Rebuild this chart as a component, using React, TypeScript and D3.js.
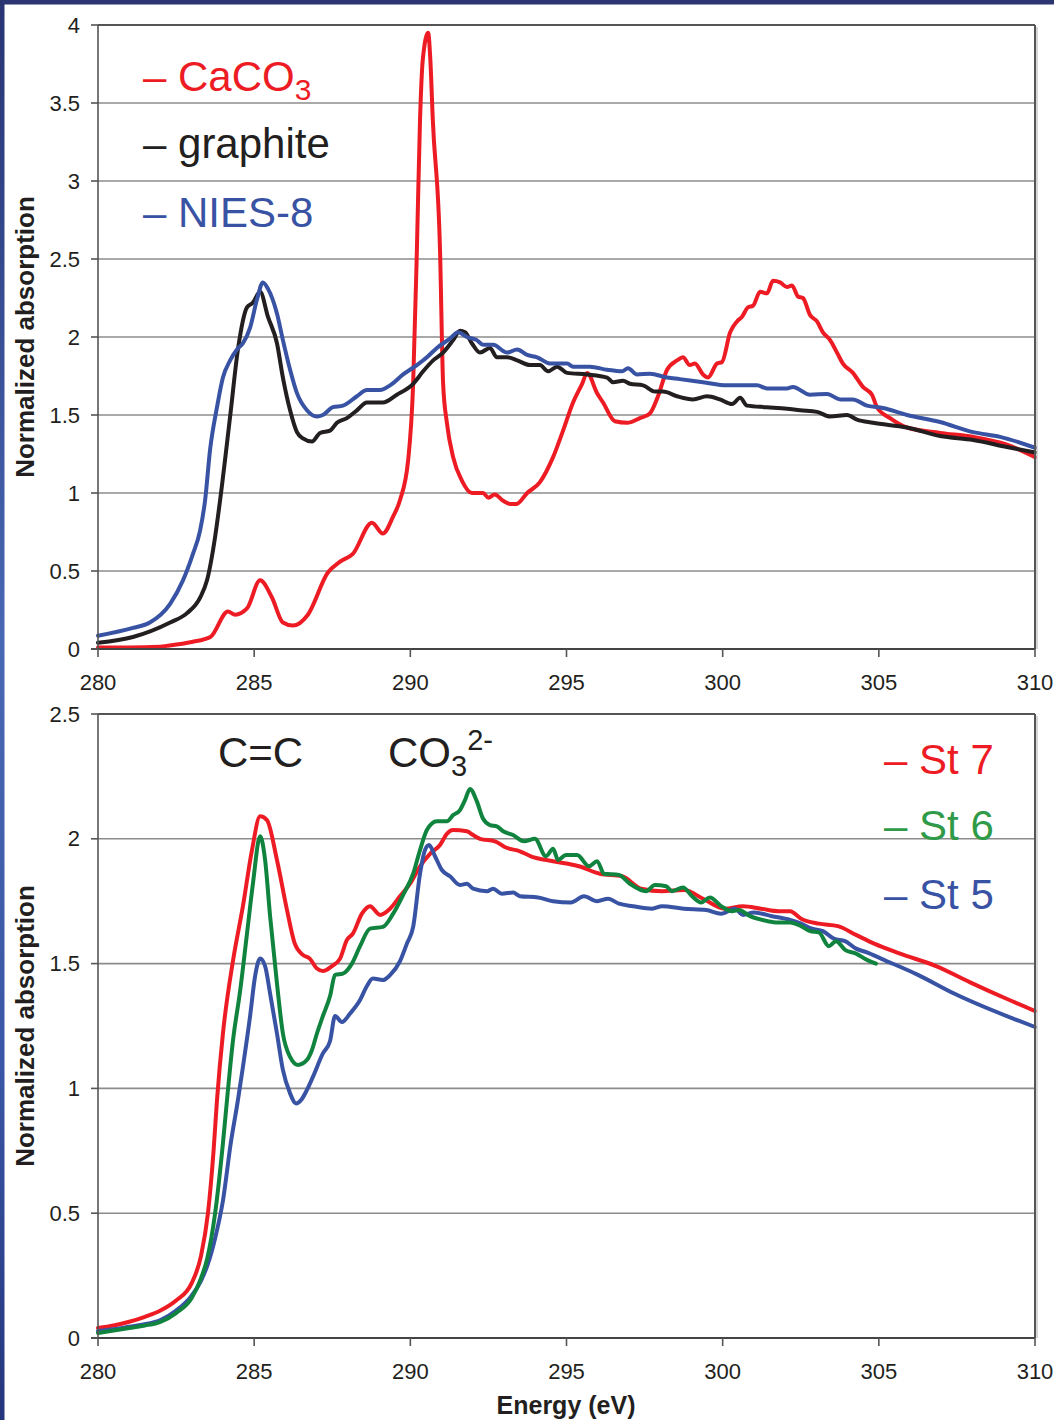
import React from "react";
import * as d3 from "d3";

// Energy axis (eV) and absorption tick values
const energyTicks = [280, 285, 290, 295, 300, 305, 310];
const topAbsTicks = [0, 0.5, 1, 1.5, 2, 2.5, 3, 3.5, 4];
const bottomAbsTicks = [0, 0.5, 1, 1.5, 2, 2.5];

// Reference spectra: [energy eV, normalized absorption]
const caco3: [number, number][] = [
  [280.0, 0.01], [281.0, 0.01], [282.0, 0.015], [282.2, 0.02], [283.0, 0.045], [283.6, 0.077],
  [284.16, 0.24], [284.39, 0.22], [284.77, 0.26], [285.19, 0.44], [285.57, 0.33], [285.92, 0.17],
  [286.24, 0.15], [286.72, 0.22], [287.36, 0.49], [287.75, 0.56], [288.16, 0.61], [288.77, 0.81],
  [289.12, 0.74], [289.45, 0.85], [289.67, 0.955], [289.93, 1.21], [290.09, 1.7], [290.21, 2.56],
  [290.31, 3.39], [290.4, 3.78], [290.57, 3.95], [290.64, 3.78], [290.72, 3.39], [290.95, 2.56],
  [291.05, 1.7], [291.17, 1.45], [291.37, 1.23], [291.65, 1.08], [291.97, 1.0], [292.33, 1.0],
  [292.5, 0.97], [292.7, 0.99], [292.97, 0.95], [293.2, 0.93], [293.4, 0.93], [293.74, 1.0],
  [294.15, 1.07], [294.57, 1.23], [294.89, 1.4], [295.21, 1.58], [295.5, 1.7], [295.66, 1.77],
  [295.98, 1.64], [296.17, 1.58], [296.55, 1.46], [296.94, 1.45], [297.35, 1.48], [297.67, 1.51],
  [297.93, 1.62], [298.22, 1.79], [298.54, 1.85], [298.73, 1.87], [298.95, 1.82], [299.11, 1.83],
  [299.37, 1.76], [299.53, 1.74], [299.82, 1.83], [299.98, 1.84], [300.24, 2.03], [300.46, 2.1],
  [300.62, 2.13], [300.81, 2.19], [300.97, 2.2], [301.2, 2.29], [301.42, 2.28], [301.61, 2.36],
  [301.84, 2.35], [302.06, 2.32], [302.22, 2.33], [302.41, 2.26], [302.57, 2.25], [302.8, 2.14],
  [303.02, 2.1], [303.21, 2.03], [303.44, 1.98], [303.66, 1.9], [303.85, 1.83], [304.17, 1.77],
  [304.49, 1.68], [304.78, 1.63], [304.94, 1.55], [305.36, 1.48], [305.9, 1.42], [306.96, 1.385],
  [308.02, 1.36], [309.1, 1.31], [310.0, 1.23],
];

const graphite: [number, number][] = [
  [280.0, 0.04], [281.12, 0.077], [282.31, 0.17], [282.85, 0.23], [283.27, 0.33], [283.49, 0.44],
  [283.75, 0.72], [283.91, 0.955], [284.23, 1.49], [284.48, 1.92], [284.77, 2.19], [284.96, 2.22],
  [285.19, 2.29], [285.44, 2.13], [285.73, 1.96], [285.92, 1.74], [286.15, 1.53], [286.37, 1.39],
  [286.56, 1.35], [286.85, 1.33], [287.11, 1.385], [287.43, 1.4], [287.65, 1.45], [287.97, 1.48],
  [288.29, 1.53], [288.61, 1.58], [289.12, 1.58], [289.57, 1.63], [290.09, 1.7], [290.41, 1.78],
  [290.73, 1.85], [291.05, 1.9], [291.37, 1.98], [291.59, 2.04], [291.75, 2.03], [291.97, 1.96],
  [292.23, 1.9], [292.55, 1.93], [292.77, 1.87], [293.1, 1.87], [293.42, 1.85], [293.83, 1.82],
  [294.15, 1.82], [294.41, 1.78], [294.7, 1.81], [295.02, 1.77], [295.66, 1.76], [296.3, 1.74],
  [296.49, 1.71], [296.81, 1.72], [297.03, 1.7], [297.45, 1.69], [297.83, 1.65], [298.09, 1.65],
  [298.54, 1.62], [299.05, 1.6], [299.5, 1.62], [299.91, 1.6], [300.3, 1.57], [300.56, 1.61],
  [300.78, 1.56], [301.42, 1.55], [302.06, 1.54], [302.48, 1.53], [303.02, 1.52], [303.44, 1.49],
  [303.98, 1.5], [304.3, 1.47], [304.81, 1.45], [305.9, 1.42], [306.96, 1.365], [308.02, 1.34],
  [309.1, 1.295], [310.0, 1.26],
];

const nies8: [number, number][] = [
  [280.0, 0.085], [281.12, 0.135], [281.66, 0.17], [282.31, 0.29], [282.72, 0.44], [283.04, 0.61],
  [283.27, 0.76], [283.43, 0.955], [283.59, 1.28], [283.81, 1.55], [284.0, 1.74], [284.23, 1.85],
  [284.45, 1.92], [284.64, 1.96], [284.87, 2.06], [285.09, 2.24], [285.28, 2.35], [285.44, 2.31],
  [285.73, 2.15], [285.92, 1.98], [286.15, 1.79], [286.37, 1.64], [286.69, 1.53], [287.01, 1.49],
  [287.2, 1.5], [287.52, 1.55], [287.84, 1.56], [288.29, 1.62], [288.61, 1.66], [289.03, 1.66],
  [289.35, 1.69], [289.77, 1.76], [290.21, 1.82], [290.53, 1.87], [290.85, 1.93], [291.27, 1.99],
  [291.53, 2.03], [291.81, 2.0], [292.13, 1.98], [292.33, 1.95], [292.65, 1.95], [293.1, 1.9],
  [293.42, 1.92], [293.74, 1.885], [294.06, 1.87], [294.47, 1.83], [295.02, 1.83], [295.21, 1.81],
  [295.75, 1.81], [296.3, 1.79], [296.78, 1.78], [296.97, 1.8], [297.26, 1.76], [297.67, 1.765],
  [298.22, 1.74], [298.63, 1.73], [299.37, 1.71], [300.14, 1.69], [301.1, 1.69], [301.42, 1.67],
  [302.06, 1.67], [302.25, 1.68], [302.8, 1.63], [303.34, 1.635], [303.76, 1.6], [304.17, 1.6],
  [304.62, 1.56], [305.13, 1.545], [305.9, 1.5], [306.96, 1.455], [308.02, 1.39], [308.88, 1.36],
  [310.0, 1.29],
];

// Sample spectra, stations 7, 6 and 5
const st7: [number, number][] = [
  [280.0, 0.04], [280.5, 0.05], [281.0, 0.065], [281.5, 0.085], [282.0, 0.11], [282.5, 0.15],
  [283.0, 0.22], [283.3, 0.33], [283.52, 0.5], [283.7, 0.75], [283.81, 0.953], [284.0, 1.22],
  [284.32, 1.51], [284.64, 1.73], [284.93, 1.955], [285.19, 2.09], [285.41, 2.075], [285.73, 1.915],
  [286.05, 1.715], [286.3, 1.58], [286.56, 1.535], [286.78, 1.52], [287.01, 1.48], [287.2, 1.47],
  [287.49, 1.49], [287.75, 1.52], [287.97, 1.595], [288.16, 1.62], [288.45, 1.7], [288.71, 1.73],
  [289.03, 1.695], [289.35, 1.72], [289.67, 1.77], [289.99, 1.82], [290.31, 1.89], [290.63, 1.94],
  [290.95, 1.975], [291.17, 2.02], [291.37, 2.035], [291.81, 2.03], [292.01, 2.015], [292.23, 2.0],
  [292.71, 1.99], [293.06, 1.965], [293.51, 1.95], [293.86, 1.93], [294.57, 1.91], [295.4, 1.89],
  [296.07, 1.86], [296.78, 1.85], [297.39, 1.8], [298.06, 1.79], [298.76, 1.795], [299.37, 1.76],
  [300.07, 1.72], [300.65, 1.73], [301.23, 1.72], [301.8, 1.71], [302.16, 1.71], [302.51, 1.68],
  [303.08, 1.66], [303.69, 1.65], [304.27, 1.615], [304.85, 1.58], [305.68, 1.54], [306.83, 1.49],
  [308.01, 1.42], [309.07, 1.36], [310.0, 1.31],
];

const st6: [number, number][] = [
  [280.0, 0.02], [280.5, 0.03], [281.0, 0.04], [281.5, 0.05], [282.0, 0.065], [282.5, 0.1],
  [283.0, 0.16], [283.3, 0.24], [283.5, 0.32], [283.75, 0.5], [284.0, 0.78], [284.13, 0.953],
  [284.32, 1.19], [284.55, 1.39], [284.77, 1.62], [284.96, 1.82], [285.19, 2.01], [285.35, 1.915],
  [285.51, 1.69], [285.73, 1.42], [285.92, 1.22], [286.15, 1.126], [286.4, 1.094], [286.69, 1.114],
  [286.85, 1.154], [287.01, 1.22], [287.2, 1.29], [287.43, 1.37], [287.59, 1.455], [287.84, 1.46],
  [288.13, 1.5], [288.39, 1.57], [288.71, 1.64], [289.12, 1.647], [289.45, 1.7], [289.77, 1.775],
  [290.09, 1.86], [290.31, 1.955], [290.53, 2.035], [290.85, 2.07], [291.17, 2.07], [291.37, 2.095],
  [291.59, 2.115], [291.75, 2.155], [291.91, 2.2], [292.13, 2.15], [292.33, 2.08], [292.55, 2.055],
  [292.77, 2.05], [292.97, 2.03], [293.29, 2.015], [293.64, 1.99], [293.99, 2.0], [294.34, 1.93],
  [294.57, 1.96], [294.73, 1.915], [294.98, 1.935], [295.34, 1.935], [295.72, 1.89], [295.98, 1.91],
  [296.2, 1.86], [296.68, 1.855], [297.03, 1.82], [297.55, 1.79], [297.83, 1.815], [298.19, 1.81],
  [298.38, 1.79], [298.73, 1.805], [299.02, 1.77], [299.31, 1.745], [299.59, 1.765], [299.95, 1.73],
  [300.3, 1.71], [300.52, 1.715], [300.88, 1.69], [301.45, 1.67], [301.71, 1.665], [302.16, 1.665],
  [302.51, 1.65], [302.8, 1.63], [303.08, 1.625], [303.4, 1.57], [303.63, 1.59], [303.92, 1.555],
  [304.27, 1.54], [304.62, 1.515], [304.91, 1.5],
];

const st5: [number, number][] = [
  [280.0, 0.028], [280.5, 0.035], [281.0, 0.045], [281.5, 0.055], [282.0, 0.072], [282.5, 0.11],
  [283.0, 0.17], [283.3, 0.23], [283.5, 0.29], [283.75, 0.4], [284.0, 0.55], [284.25, 0.78],
  [284.48, 0.953], [284.64, 1.086], [284.87, 1.29], [285.03, 1.45], [285.19, 1.52], [285.35, 1.49],
  [285.51, 1.38], [285.73, 1.22], [285.92, 1.074], [286.15, 0.98], [286.34, 0.94], [286.5, 0.953],
  [286.69, 0.994], [286.88, 1.046], [287.2, 1.14], [287.43, 1.19], [287.59, 1.29], [287.81, 1.266],
  [288.07, 1.3], [288.39, 1.354], [288.61, 1.41], [288.8, 1.44], [289.12, 1.434], [289.35, 1.454],
  [289.67, 1.51], [289.89, 1.58], [290.09, 1.647], [290.31, 1.86], [290.47, 1.955], [290.6, 1.975],
  [290.79, 1.93], [291.01, 1.875], [291.27, 1.85], [291.59, 1.815], [291.81, 1.82], [292.01, 1.8],
  [292.45, 1.79], [292.65, 1.8], [292.93, 1.78], [293.29, 1.785], [293.51, 1.77], [294.09, 1.765],
  [294.57, 1.75], [295.14, 1.745], [295.56, 1.77], [295.98, 1.75], [296.33, 1.76], [296.68, 1.74],
  [297.13, 1.73], [297.74, 1.72], [298.06, 1.73], [298.76, 1.72], [299.47, 1.715], [299.95, 1.7],
  [300.39, 1.72], [300.65, 1.695], [301.0, 1.705], [301.58, 1.69], [302.16, 1.675], [302.51, 1.66],
  [302.86, 1.64], [303.21, 1.63], [303.56, 1.6], [303.92, 1.59], [304.27, 1.56], [304.62, 1.545],
  [305.07, 1.52], [306.25, 1.455], [307.41, 1.38], [310.0, 1.246],
];

const RED = "#ed1c24";
const BLACK = "#231f20";
const BLUE = "#3953a4";
const GREEN = "#10843f";
const GREEN_TEXT = "#2f9a48";
const FONT = "'Liberation Sans', Arial, Helvetica, sans-serif";

const W = 1054;
const H = 1420;
const PLOT_LEFT = 98;
const PLOT_RIGHT = 1035;

const x = d3.scaleLinear().domain([280, 310]).range([PLOT_LEFT, PLOT_RIGHT]);

type Series = { data: [number, number][]; color: string };

function Panel({
  top,
  bottom,
  yMax,
  ticks,
  series,
}: {
  top: number;
  bottom: number;
  yMax: number;
  ticks: number[];
  series: Series[];
}) {
  const y = d3.scaleLinear().domain([0, yMax]).range([bottom, top]);
  const line = d3
    .line<[number, number]>()
    .x((d) => x(d[0]))
    .y((d) => y(d[1]))
    .curve(d3.curveMonotoneX);
  const fmt = d3.format("~g");
  return (
    <g>
      <rect x={PLOT_LEFT} y={top} width={PLOT_RIGHT - PLOT_LEFT} height={bottom - top} fill="#fff" />
      {ticks
        .filter((t) => t > 0 && t < yMax)
        .map((t) => (
          <line key={"g" + t} x1={PLOT_LEFT} x2={PLOT_RIGHT} y1={y(t)} y2={y(t)} stroke="#8c8c8c" strokeWidth={1.6} />
        ))}
      {series.map((s, i) => (
        <path
          key={i}
          d={line(s.data) || ""}
          fill="none"
          stroke={s.color}
          strokeWidth={4}
          strokeLinejoin="round"
          strokeLinecap="round"
        />
      ))}
      {/* frame */}
      <line x1={PLOT_LEFT} x2={PLOT_RIGHT} y1={top} y2={top} stroke="#555" strokeWidth={2} />
      <line x1={PLOT_RIGHT} x2={PLOT_RIGHT} y1={top} y2={bottom} stroke="#555" strokeWidth={2} />
      <line x1={PLOT_RIGHT + 2} x2={PLOT_RIGHT + 2} y1={top + 2} y2={bottom} stroke="#bbb" strokeWidth={1.2} />
      <line x1={PLOT_LEFT} x2={PLOT_LEFT} y1={top} y2={bottom} stroke="#555" strokeWidth={1.6} />
      <line x1={PLOT_LEFT - 7} x2={PLOT_RIGHT} y1={bottom} y2={bottom} stroke="#444" strokeWidth={1.8} />
      {ticks.map((t) => (
        <g key={"y" + t}>
          <line x1={PLOT_LEFT - 7} x2={PLOT_LEFT} y1={y(t)} y2={y(t)} stroke="#555" strokeWidth={1.6} />
          <text x={80} y={y(t) + 7.5} textAnchor="end" fontSize={22} fill={BLACK} fontFamily={FONT}>
            {fmt(t)}
          </text>
        </g>
      ))}
      {energyTicks.map((t) => (
        <g key={"x" + t}>
          <line x1={x(t)} x2={x(t)} y1={bottom} y2={bottom + 8} stroke="#555" strokeWidth={1.6} />
          <text x={x(t)} y={bottom + 41} textAnchor="middle" fontSize={22} fill={BLACK} fontFamily={FONT}>
            {t}
          </text>
        </g>
      ))}
      <text
        transform={`translate(34, ${(top + bottom) / 2}) rotate(-90)`}
        textAnchor="middle"
        fontSize={26}
        fontWeight="bold"
        fill={BLACK}
        fontFamily={FONT}
      >
        Normalized absorption
      </text>
    </g>
  );
}

export default function App() {
  return (
    <div style={{ position: "absolute", left: 0, top: 0 }}>
      <svg width={W} height={H} viewBox={`0 0 ${W} ${H}`} style={{ display: "block", background: "#fff" }}>
        <defs>
          <linearGradient id="edge" x1="0" y1="0" x2="0" y2="1">
            <stop offset="0" stopColor="#283473" />
            <stop offset="0.45" stopColor="#4867b4" />
            <stop offset="0.75" stopColor="#3a56a6" />
            <stop offset="1" stopColor="#25357c" />
          </linearGradient>
        </defs>
        <rect x={0} y={0} width={W} height={H} fill="#fff" />
        <rect x={0} y={0} width={4.5} height={H} fill="url(#edge)" />
        <rect x={0} y={0} width={W} height={4.5} fill="#2a3572" />

        <Panel
          top={25}
          bottom={649}
          yMax={4}
          ticks={topAbsTicks}
          series={[
            { data: caco3, color: RED },
            { data: graphite, color: BLACK },
            { data: nies8, color: BLUE },
          ]}
        />
        <Panel
          top={714}
          bottom={1338}
          yMax={2.5}
          ticks={bottomAbsTicks}
          series={[
            { data: st7, color: RED },
            { data: st5, color: BLUE },
            { data: st6, color: GREEN },
          ]}
        />

        {/* reference legend */}
        <g fontFamily={FONT} fontSize={42}>
          <text x={143} y={91} fill={RED}>
            {"– CaCO"}
            <tspan fontSize={30} dy={9}>3</tspan>
          </text>
          <text x={143} y={158} fill={BLACK}>{"– graphite"}</text>
          <text x={143} y={227} fill={BLUE}>{"– NIES-8"}</text>
        </g>

        {/* functional group labels */}
        <g fontFamily={FONT} fontSize={42} fill={BLACK}>
          <text x={218} y={767}>C=C</text>
          <text x={388} y={767}>
            CO
            <tspan fontSize={29} dy={9}>3</tspan>
            <tspan fontSize={29} dy={-26}>2-</tspan>
          </text>
        </g>

        {/* sample legend */}
        <g fontFamily={FONT} fontSize={42}>
          <text x={884} y={774} fill={RED}>{"– St 7"}</text>
          <text x={884} y={840} fill={GREEN_TEXT}>{"– St 6"}</text>
          <text x={884} y={909} fill={BLUE}>{"– St 5"}</text>
        </g>

        <text x={566} y={1414} textAnchor="middle" fontSize={25} fontWeight="bold" fill={BLACK} fontFamily={FONT}>
          Energy (eV)
        </text>
      </svg>
    </div>
  );
}
